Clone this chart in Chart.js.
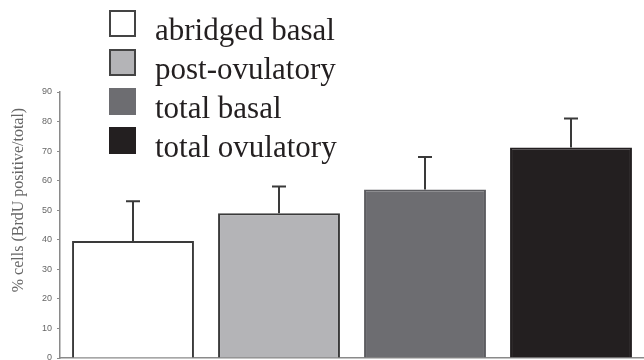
<!DOCTYPE html>
<html>
<head>
<meta charset="utf-8">
<script src="https://cdn.jsdelivr.net/npm/chart.js@4/dist/chart.umd.min.js"></script>
<style>
  body { margin: 0; background: #fff; }
  #wrap { width: 644px; height: 360px; position: relative; }
</style>
</head>
<body>
<div id="wrap"><canvas id="bars"></canvas></div>
<script>
// --- data ---
const groups = ['abridged basal', 'post-ovulatory', 'total basal', 'total ovulatory'];
const means = [39.6, 49, 57, 71.2];
const errors = [13.4, 9, 11, 9.8];
const yTicks = [0, 10, 20, 30, 40, 50, 60, 70, 80, 90];

const fills = ['#ffffff', '#b4b4b7', '#6d6d71', '#231f20'];
const edges = ['#3a3a3a', '#3a3a3a', '#5c5c60', '#231f20'];
const yTitle = '% cells (BrdU positive/total)';

// upper error bars, drawn through the y scale
const errorBars = {
  id: 'errorBars',
  afterDatasetsDraw(chart) {
    const ctx = chart.ctx;
    const y = chart.scales.y;
    const meta = chart.getDatasetMeta(0);
    ctx.save();
    ctx.strokeStyle = '#3a3a3a';
    ctx.lineWidth = 2;
    meta.data.forEach((bar, i) => {
      const top = y.getPixelForValue(means[i] + errors[i]);
      const base = y.getPixelForValue(means[i]);
      ctx.beginPath();
      ctx.moveTo(bar.x, base);
      ctx.lineTo(bar.x, top);
      ctx.moveTo(bar.x - 7, top);
      ctx.lineTo(bar.x + 7, top);
      ctx.stroke();
    });
    ctx.restore();
  }
};

// legend box in the top left, plus the rotated y title
const sideText = {
  id: 'sideText',
  afterDraw(chart) {
    const ctx = chart.ctx;
    ctx.save();
    ctx.font = '31px "Liberation Serif"';
    ctx.textBaseline = 'alphabetic';
    groups.forEach((g, i) => {
      const top = 11 + i * 39;
      ctx.fillStyle = fills[i];
      ctx.fillRect(110, top, 25, 25);
      ctx.strokeStyle = i < 2 ? '#444' : fills[i];
      ctx.lineWidth = 2;
      ctx.strokeRect(110, top, 25, 25);
      ctx.fillStyle = '#231f20';
      ctx.fillText(g, 155, top + 29);
    });

    ctx.font = '16px "Liberation Serif"';
    ctx.fillStyle = '#666';
    ctx.textAlign = 'center';
    ctx.textBaseline = 'middle';
    ctx.translate(19, 200);
    ctx.rotate(-Math.PI / 2);
    ctx.fillText(yTitle, 0, 0);
    ctx.restore();
  }
};

new Chart(document.getElementById('bars'), {
  type: 'bar',
  data: {
    labels: groups,
    datasets: [{
      data: means,
      backgroundColor: fills,
      borderColor: edges,
      borderWidth: 2,
      borderSkipped: 'bottom',
      barPercentage: 0.835,
      categoryPercentage: 1
    }]
  },
  options: {
    responsive: true,
    maintainAspectRatio: false,
    animation: false,
    layout: { padding: { top: 92, right: 0, bottom: 2, left: 0 } },
    plugins: { legend: { display: false }, tooltip: { enabled: false } },
    scales: {
      x: {
        afterFit(scale) { scale.height = 0; },
        ticks: { display: false },
        grid: { display: true, drawOnChartArea: false, drawTicks: false },
        border: { color: '#8a8a8a', width: 1.5 }
      },
      y: {
        min: 0,
        max: 90,
        afterBuildTicks(scale) { scale.ticks = yTicks.map(v => ({ value: v })); },
        afterFit(scale) {
          scale.width = 60;
          scale.paddingTop = 0;
          scale.paddingBottom = 0;
        },
        ticks: { color: '#666', padding: 5, font: { family: 'Liberation Sans', size: 9 } },
        grid: { drawOnChartArea: false, tickLength: 3, color: '#8a8a8a' },
        border: { color: '#8a8a8a', width: 1.5 }
      }
    }
  },
  plugins: [errorBars, sideText]
});
</script>
</body>
</html>
